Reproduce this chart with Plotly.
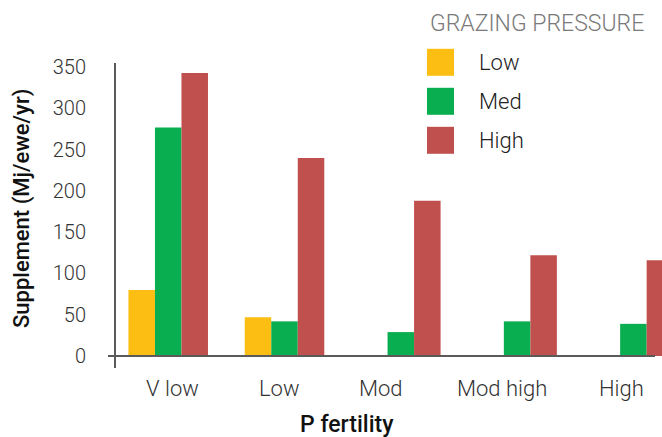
import plotly.graph_objects as go

categories = ["V low", "Low", "Mod", "Mod high", "High"]
series_names = ["Low", "Med", "High"]
low_values = [80, 47, None, None, None]
med_values = [277, 42, 29, 42, 39]
high_values = [343, 240, 188, 122, 116]
colors = ["#FDBE13", "#08AE4F", "#C0504D"]
y_ticks = [0, 50, 100, 150, 200, 250, 300, 350]

# horizontal nudges of the category labels (pixels), as placed in the reference
label_shift = [4, -5, -20, -15, -12]

W, H = 662, 437
PL, PR, PT, PB = 116, 662, 63, 368  # plot area in window pixels
pw, ph = PR - PL, PB - PT

def px_x(x):
    return (x - PL) / pw

def px_y(y):
    return (PB - y) / ph

fig = go.Figure()
for name, vals, col in zip(series_names, [low_values, med_values, high_values], colors):
    fig.add_trace(go.Bar(x=categories, y=vals, name=name, marker=dict(color=col, line=dict(width=0)),
                         showlegend=False))

font_light = dict(family="Roboto", size=20, color="#333333", weight=300)

shapes = [
    dict(type="line", xref="paper", yref="y", x0=px_x(108), x1=px_x(655), y0=0, y1=0,
         line=dict(color="#5a5a5a", width=2)),
]
annotations = [
    dict(text="GRAZING PRESSURE", xref="paper", yref="paper", x=px_x(537), y=px_y(23),
         xanchor="center", yanchor="middle", showarrow=False,
         font=dict(family="Roboto", size=23, color="#7a7a7a", weight=300)),
    dict(text="P fertility", xref="paper", yref="paper", x=px_x(347), y=px_y(424),
         xanchor="center", yanchor="middle", showarrow=False,
         font=dict(family="Roboto", size=23, color="#111111", weight=500)),
    dict(text="Supplement (Mj/ewe/yr)", xref="paper", yref="paper", x=px_x(22), y=px_y(209),
         xanchor="center", yanchor="middle", textangle=-90, showarrow=False,
         font=dict(family="Roboto", size=22, color="#111111", weight=500)),
]
for cat, dx in zip(categories, label_shift):
    annotations.append(dict(text=cat, xref="x", yref="paper", x=cat, y=px_y(388), xshift=dx,
                            xanchor="center", yanchor="middle", showarrow=False,
                            font=dict(family="Roboto", size=22, color="#333333", weight=300)))
for i, (name, col) in enumerate(zip(series_names, colors)):
    cy = 62.3 + 39 * i
    shapes.append(dict(type="rect", xref="paper", yref="paper", x0=px_x(427), x1=px_x(454),
                       y0=px_y(cy - 13.5), y1=px_y(cy + 13.5), fillcolor=col, line=dict(width=0)))
    annotations.append(dict(text=name, xref="paper", yref="paper", x=px_x(477), y=px_y(cy),
                            xanchor="left", yanchor="middle", showarrow=False,
                            font=dict(family="Roboto", size=22, color="#222222", weight=300)))

fig.update_layout(
    width=W, height=H,
    margin=dict(l=PL, r=W - PR, t=PT, b=H - PB, pad=0),
    paper_bgcolor="white", plot_bgcolor="white",
    barmode="group", bargap=0.316, bargroupgap=0,
    shapes=shapes, annotations=annotations,
    font=font_light,
)
fig.update_xaxes(range=[-0.449, 4.246], showgrid=False, zeroline=False, showline=False,
                 ticks="", showticklabels=False)
fig.update_yaxes(range=[-14.5, 355], showgrid=False, zeroline=False, showline=True,
                 linecolor="#5a5a5a", linewidth=2, tickvals=y_ticks, ticks="",
                 tickfont=font_light, ticklabelstandoff=24)
fig.write_html(
    "out.html",
    config={"displayModeBar": False},
    post_script="document.documentElement.style.overflow='hidden';"
                "document.body.style.margin='0';document.body.style.overflow='hidden';",
)
